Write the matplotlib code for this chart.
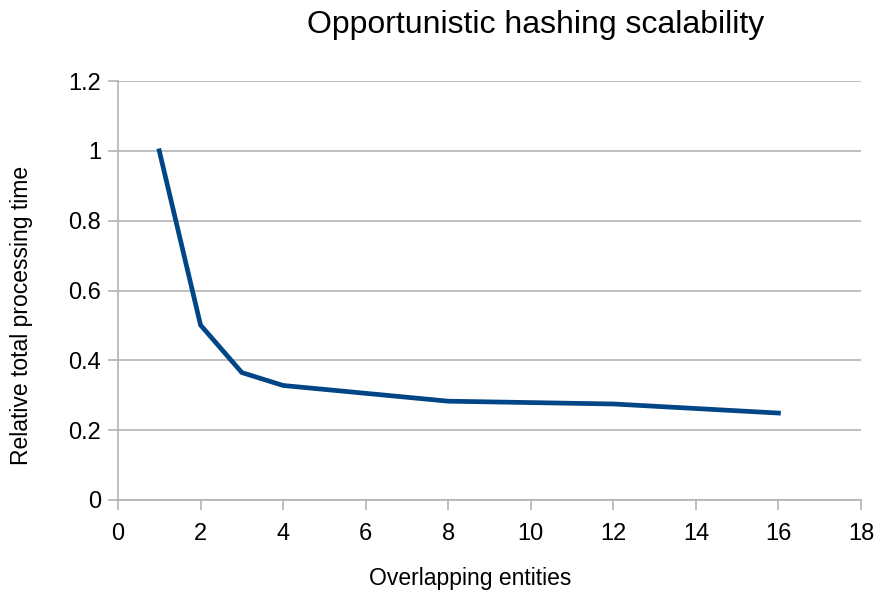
import matplotlib
matplotlib.use("Agg")
import matplotlib.pyplot as plt

entities = [1, 2, 3, 4, 8, 12, 16]
rel_time = [1.0, 0.501, 0.365, 0.328, 0.283, 0.275, 0.249]
x_ticks = [0, 2, 4, 6, 8, 10, 12, 14, 16, 18]
y_ticks = [0, 0.2, 0.4, 0.6, 0.8, 1.0, 1.2]
y_tick_labels = ["0", "0.2", "0.4", "0.6", "0.8", "1", "1.2"]

plt.rcParams['font.family'] = ['Liberation Sans', 'DejaVu Sans']

fig = plt.figure(figsize=(8.8, 5.98), dpi=100)
ax = fig.add_axes([118/880, 98/598, (861-118)/880, (500-81)/598])

ax.plot(entities, rel_time, color='#004586', linewidth=3.4, solid_joinstyle='miter', zorder=3)

ax.set_xlim(0, 18)
ax.set_ylim(0, 1.2)
ax.set_xticks(x_ticks)
ax.set_yticks(y_ticks)
ax.set_yticklabels(y_tick_labels)
ax.grid(axis='y', color='#b3b3b3', linewidth=1.2)
ax.set_axisbelow(True)
for s in ['top', 'right']:
    ax.spines[s].set_visible(False)
for s in ['left', 'bottom']:
    ax.spines[s].set_color('#b3b3b3')
    ax.spines[s].set_linewidth(1.2)
ax.tick_params(axis='both', colors='#b3b3b3', labelcolor='black', labelsize=17, length=7.2, width=1.2)
ax.tick_params(axis='x', pad=9)
ax.tick_params(axis='y', pad=5)

fig.text(536/880, 1 - 25/598, 'Opportunistic hashing scalability', ha='center', va='center', fontsize=23)
fig.text(470/880, 1 - 578/598, 'Overlapping entities', ha='center', va='center', fontsize=16.5)
fig.text(22/880, 1 - 315/598, 'Relative total processing time', ha='center', va='center', rotation=90, fontsize=16.5)

fig.savefig('out.png', dpi=100)
